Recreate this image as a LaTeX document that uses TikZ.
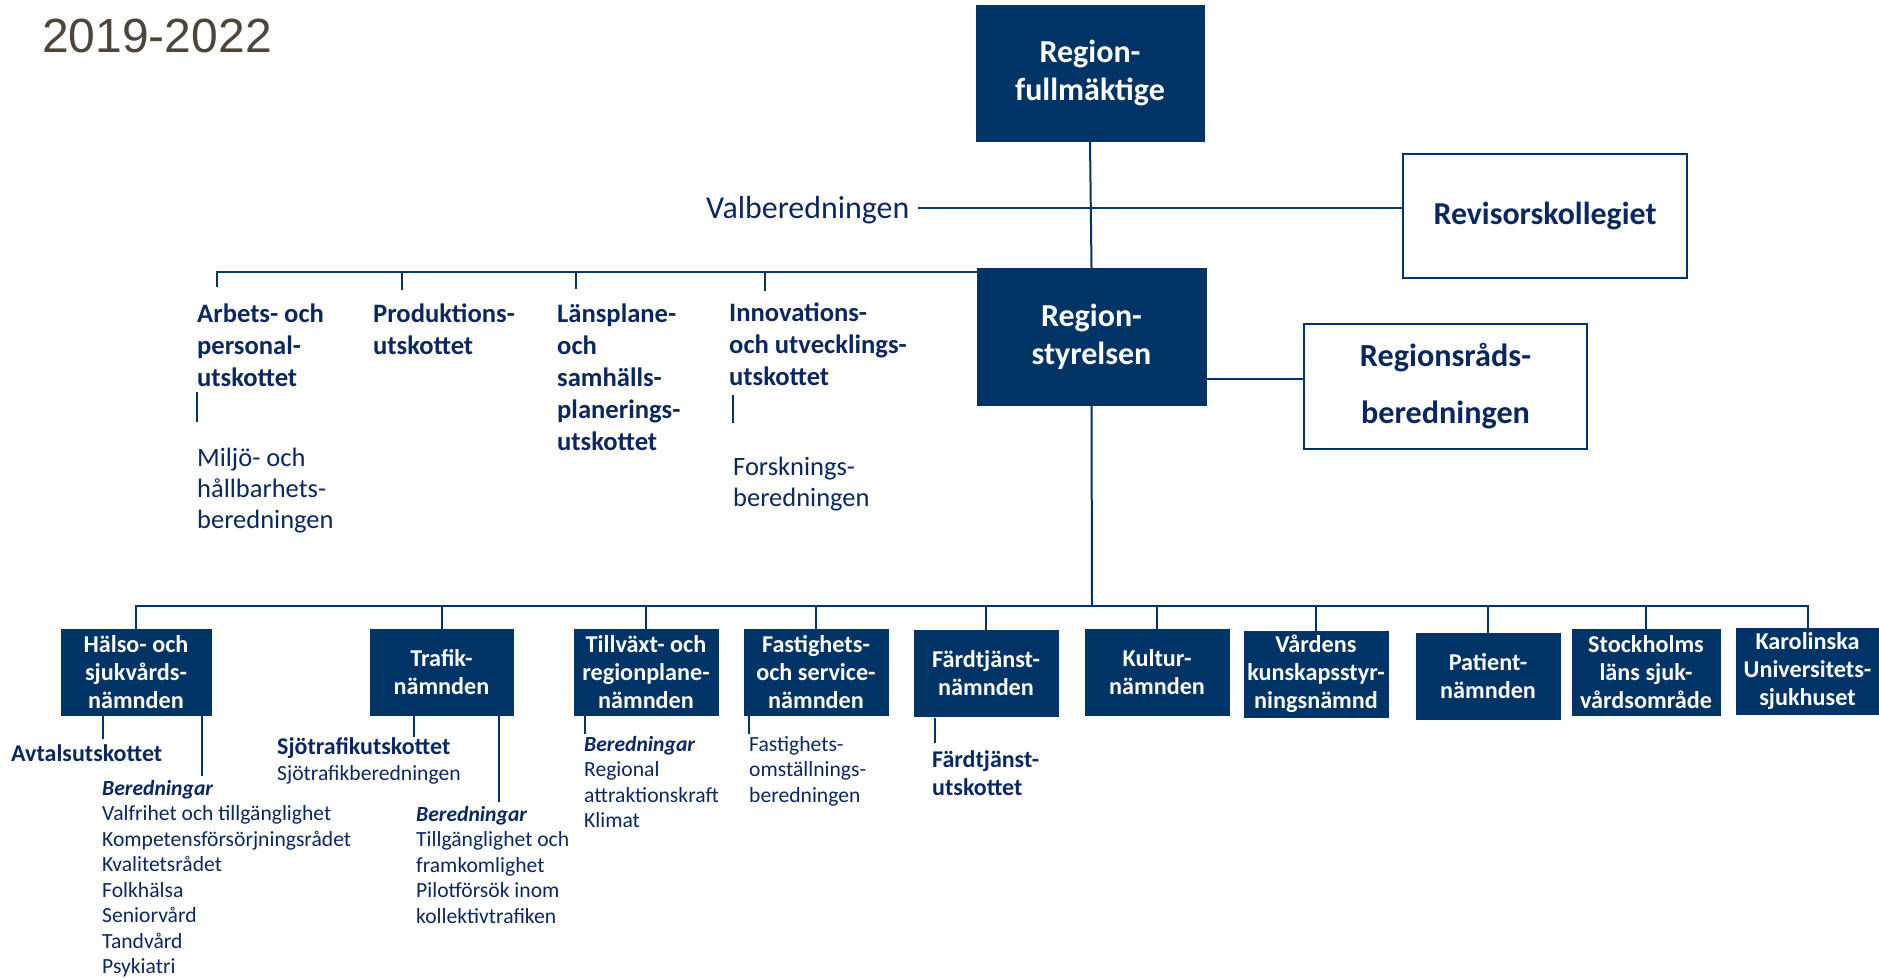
\documentclass[tikz,border=0pt]{standalone}
\usepackage{fontspec}
\setmainfont{Carlito}
\newfontfamily\titlefont{Liberation Sans}
\definecolor{navy}{RGB}{0,51,102}
\definecolor{txt}{RGB}{10,40,95}
\definecolor{ttl}{RGB}{77,69,57}
\begin{document}
\begin{tikzpicture}[x=1pt,y=-1pt,
  conn/.style={draw=navy, line width=2pt},
  dbox/.style={fill=navy, draw=navy, text=white, align=center, inner sep=0pt},
  wbox/.style={fill=white, draw=navy, line width=2pt, text=txt, align=center, inner sep=0pt},
  bigf/.style={font=\bfseries\fontsize{32}{38}\selectfont},
  smallf/.style={font=\bfseries\fontsize{24.2}{28}\selectfont},
  lbl/.style={anchor=base west, inner sep=0pt, align=left, text=txt},
  ubold/.style={font=\bfseries\fontsize{26.6}{32}\selectfont},
  ureg/.style={font=\fontsize{26.5}{31}\selectfont},
  sbold/.style={font=\bfseries\fontsize{24}{28.5}\selectfont},
  sreg/.style={font=\fontsize{21.6}{25.5}\selectfont}]
\useasboundingbox (0,0) rectangle (1879,977);

\node[anchor=base west, inner sep=0pt, font=\titlefont\fontsize{48}{58}\selectfont, text=ttl] (title) at (42,52) {2019-2022};

% top boxes
\node[dbox,bigf,minimum width=228pt,minimum height=136pt] (rf) at (1090,73) {Region-\\fullmäktige};
\node[dbox,bigf,minimum width=229pt,minimum height=137pt] (rs) at (1091.5,336.5) {Region-\\styrelsen};
\node[wbox,font=\bfseries\fontsize{31.9}{36}\selectfont,minimum width=284pt,minimum height=124pt] (rev) at (1545,216) {Revisorskollegiet};
\node[wbox,font=\bfseries\fontsize{32.2}{57}\selectfont,minimum width=283pt,minimum height=125pt] (rrb) at (1445.5,386.5) {Regionsråds-\\beredningen};

\node[lbl,font=\fontsize{31.9}{36}\selectfont] (val) at (706,218) {Valberedningen};

\draw[conn] (rf.south) -- (rs.north);
\coordinate (vl) at (918,208);
\draw[conn] (vl) -- (vl -| rev.west);
\coordinate (rc) at (1206,379);
\draw[conn] (rc) -- (rc -| rrb.west);

% upper committees
\coordinate (ub) at (977,272);
\coordinate (t1) at (217,287);
\coordinate (t2) at (402,290);
\coordinate (t3) at (576,289);
\coordinate (t4) at (765,291);
\draw[conn] (ub) -| (t1);
\draw[conn] (ub) -| (t2);
\draw[conn] (ub) -| (t3);
\draw[conn] (ub) -| (t4);

% anchors are at the baseline of the last line
\node[lbl,ubold] (arb) at (197,386) {Arbets- och\\personal-\\utskottet};
\node[lbl,ubold] (prod) at (373,354) {Produktions-\\utskottet};
\node[lbl,ubold] (lans) at (557,450) {Länsplane-\\och\\samhälls-\\planerings-\\utskottet};
\node[lbl,ubold] (inno) at (729,385) {Innovations-\\och utvecklings-\\utskottet};
\node[lbl,ureg] (milj) at (197,528) {Miljö- och\\hållbarhets-\\beredningen};
\node[lbl,ureg] (fors) at (733,506.5) {Forsknings-\\beredningen};

\coordinate (a1) at (197,392); \coordinate (a2) at (197,422);
\draw[conn] (a1) -- (a2);
\coordinate (i1) at (733,395); \coordinate (i2) at (733,423);
\draw[conn] (i1) -- (i2);

% bottom boxes
\node[dbox,smallf,minimum width=150pt,minimum height=86pt] (halso) at (136,672) {Hälso- och\\sjukvårds-\\nämnden};
\node[dbox,smallf,minimum width=143pt,minimum height=86pt] (trafik) at (441.5,672) {Trafik-\\nämnden};
\node[dbox,smallf,minimum width=144pt,minimum height=86pt] (tillv) at (646,672) {Tillväxt- och\\regionplane-\\nämnden};
\node[dbox,smallf,minimum width=144pt,minimum height=86pt] (fast) at (816,672) {Fastighets-\\och service-\\nämnden};
\node[dbox,smallf,minimum width=144pt,minimum height=86pt] (fard) at (986,673) {Färdtjänst-\\nämnden};
\node[dbox,smallf,minimum width=144pt,minimum height=86pt] (kultur) at (1157,672) {Kultur-\\nämnden};
\node[dbox,smallf,minimum width=144pt,minimum height=86pt] (vard) at (1316,674) {Vårdens\\kunskapsstyr-\\ningsnämnd};
\node[dbox,smallf,minimum width=144pt,minimum height=86pt] (pat) at (1488,676) {Patient-\\nämnden};
\node[dbox,smallf,minimum width=148pt,minimum height=86pt] (stock) at (1646,672) {Stockholms\\läns sjuk-\\vårdsområde};
\node[dbox,smallf,minimum width=143pt,minimum height=86pt] (karo) at (1807.5,671) {Karolinska\\Universitets-\\sjukhuset};

\coordinate (bus) at (1092,606);
\draw[conn] (rs.south) -- (bus);
\foreach \b in {halso,trafik,tillv,fast,fard,kultur,vard,pat,stock,karo}
  \draw[conn] (bus) -| (\b.north);

% sub items
\coordinate (h1) at (103,739); \draw[conn] (h1 |- halso.south) -- (h1);
\coordinate (h2) at (202,776); \draw[conn] (h2 |- halso.south) -- (h2);
\coordinate (tr1) at (414,737); \draw[conn] (tr1 |- trafik.south) -- (tr1);
\coordinate (tr2) at (499,802); \draw[conn] (tr2 |- trafik.south) -- (tr2);
\coordinate (tv1) at (585,734); \draw[conn] (tv1 |- tillv.south) -- (tv1);
\coordinate (fa1) at (749,734); \draw[conn] (fa1 |- fast.south) -- (fa1);
\coordinate (fd0) at (935,718); \coordinate (fd1) at (935,743); \draw[conn] (fd0) -- (fd1);

\node[lbl,sbold] (avt) at (11,761) {Avtalsutskottet};
\node[lbl,sreg] (hber) at (102,973.5) {\textbf{\textit{Beredningar}}\\Valfrihet och tillgänglighet\\Kompetensförsörjningsrådet\\Kvalitetsrådet\\Folkhälsa\\Seniorvård\\Tandvård\\Psykiatri};
\node[lbl,sbold] (sjo) at (277,754) {Sjötrafikutskottet};
\node[lbl,sreg] (sjob) at (277,780) {Sjötrafikberedningen};
\node[lbl,sreg] (tber) at (416,923) {\textbf{\textit{Beredningar}}\\Tillgänglighet och\\framkomlighet\\Pilotförsök inom\\kollektivtrafiken};
\node[lbl,sreg] (tvber) at (584,827.5) {\textbf{\textit{Beredningar}}\\Regional\\attraktionskraft\\Klimat};
\node[lbl,sreg] (fber) at (749,802) {Fastighets-\\omställnings-\\beredningen};
\node[lbl,sbold] (futs) at (932,795.5) {Färdtjänst-\\utskottet};
\end{tikzpicture}
\end{document}
